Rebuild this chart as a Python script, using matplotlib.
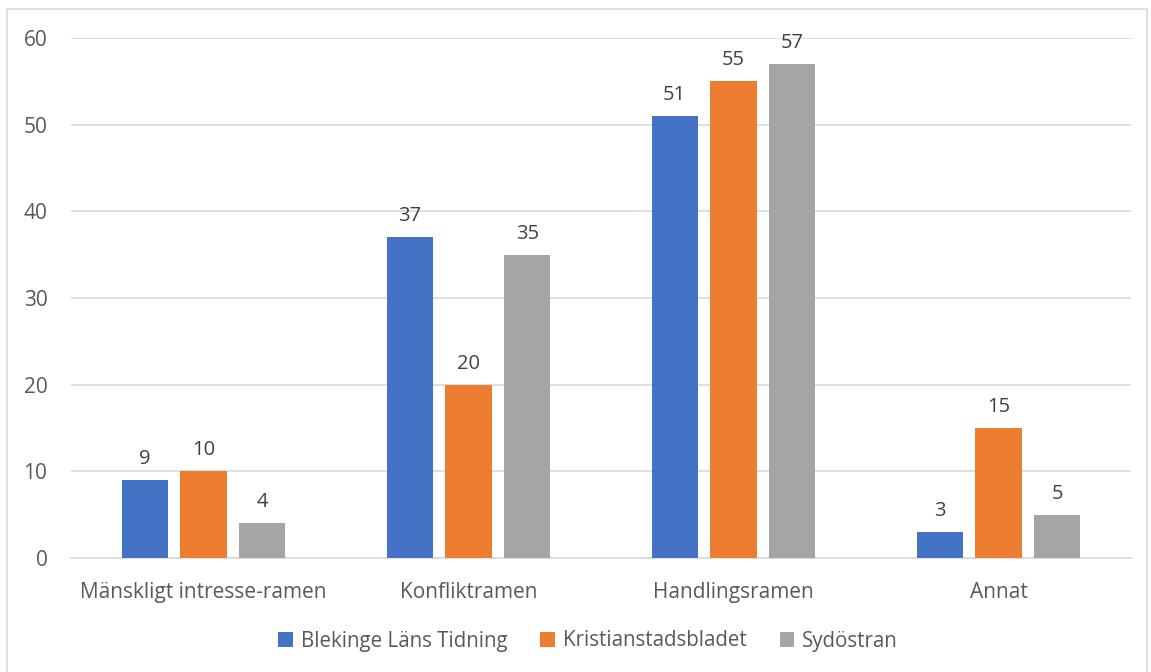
import numpy as np
import matplotlib.pyplot as plt
from matplotlib.patches import Rectangle

categories = ['Mänskligt intresse-ramen', 'Konfliktramen', 'Handlingsramen', 'Annat']
series_names = ['Blekinge Läns Tidning', 'Kristianstadsbladet', 'Sydöstran']
blt = [9, 37, 51, 3]
kb = [10, 20, 55, 15]
syd = [4, 35, 57, 5]
colors = ['#4472C4', '#ED7D31', '#A5A5A5']

plt.rcParams['font.family'] = ['Open Sans', 'DejaVu Sans']
text_col = '#595959'

fig = plt.figure(figsize=(11.51, 6.72), dpi=100)
ax = fig.add_axes([71 / 1151, 1 - 558 / 672, 1060 / 1151, 520 / 672])

# outer chart border
fig.patches.append(Rectangle((7 / 1151, -0.01), 1140 / 1151, 1 - 9 / 672 + 0.01,
                             transform=fig.transFigure, fill=False,
                             edgecolor='#D9D9D9', linewidth=1.2))

x = np.arange(len(categories))
width = 0.174
step = 0.222
for i, (vals, name) in enumerate(zip([blt, kb, syd], series_names)):
    bars = ax.bar(x + (i - 1) * step, vals, width, color=colors[i], label=name, zorder=3)
    ax.bar_label(bars, padding=8, fontsize=14.5, color='#404040')

ax.set_xlim(-0.5, len(categories) - 0.5)
ax.set_ylim(0, 60)
ax.set_yticks(range(0, 61, 10))
ax.yaxis.grid(True, color='#D9D9D9', linewidth=1.2, zorder=0)
ax.set_xticks(x)
ax.set_xticklabels(categories)
ax.tick_params(axis='both', length=0, labelsize=15, colors=text_col)
ax.tick_params(axis='y', pad=17)
ax.tick_params(axis='x', pad=17)
for s in ['top', 'right', 'left']:
    ax.spines[s].set_visible(False)
ax.spines['bottom'].set_color('#D9D9D9')
ax.spines['bottom'].set_linewidth(1.2)

fig.legend(loc='center', bbox_to_anchor=(588 / 1151, 1 - 641 / 672), ncol=3,
           frameon=False, fontsize=14.8, handlelength=0.7, handleheight=0.7,
           handletextpad=0.4, columnspacing=1.6, labelcolor=text_col)

fig.savefig('out.png', dpi=100)
